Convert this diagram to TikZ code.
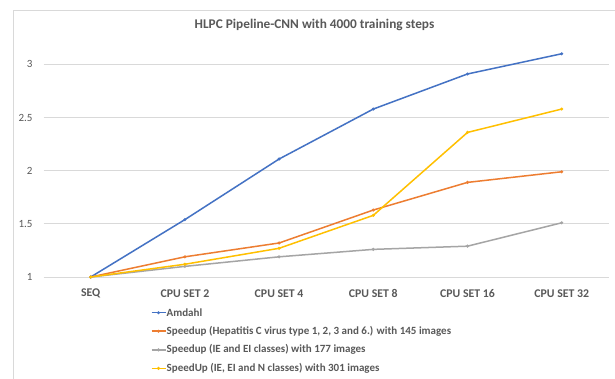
\documentclass[tikz,border=0pt]{standalone}
\usepackage{fontspec}
\usetikzlibrary{calc}
\setmainfont{Carlito}
\definecolor{amdc}{HTML}{4472C4}
\definecolor{orc}{HTML}{ED7D31}
\definecolor{grc}{HTML}{A5A5A5}
\definecolor{ylc}{HTML}{FFC000}
\definecolor{txtc}{HTML}{595959}
\definecolor{gridc}{HTML}{D9D9D9}
\definecolor{framec}{HTML}{D9D9D9}
\newcommand\chartseries[3]{%
  \foreach \v [count=\k from 0] in {#3} {\coordinate (#1\k) at ({90.7+94.2*\k},{277-106.3*(\v-1)});}
  \draw[#2, line width=1.5pt, line join=round] (#10) -- (#11) -- (#12) -- (#13) -- (#14) -- (#15);
  \foreach \k in {0,...,5} {\fill[#2] (#1\k) circle (1.7pt);}
}
\begin{document}
\begin{tikzpicture}[x=1pt,y=-1pt,
  gridline/.style={draw=gridc, line width=0.9pt},
  ylab/.style={anchor=east, text=txtc, font=\fontsize{11}{12}\selectfont, inner sep=0pt},
  xlab/.style={anchor=center, text=txtc, font=\fontsize{11.8}{13}\selectfont\bfseries, inner sep=0pt},
  leglab/.style={anchor=west, text=txtc, font=\fontsize{11}{13}\selectfont\bfseries, inner sep=0pt},
  titlelab/.style={text=txtc, font=\fontsize{13.3}{15}\selectfont\bfseries, inner sep=0pt}]
\useasboundingbox (0,0) rectangle (615,378);
\fill[white] (0,0) rectangle (615,378);
% frame
\draw[framec, line width=0.9pt] (13,400) -- (13,10) -- (620,10);
% title
\node[titlelab] (title) at (314.5,25) {HLPC Pipeline-CNN with 4000 training steps};
% grid and y labels
\foreach \v/\l [count=\n] in {1/1,1.5/1.5,2/2,2.5/2.5,3/3} {
  \coordinate (gl\n) at (43.5,{277-106.3*(\v-1)});
  \coordinate (gr\n) at (608.5,{277-106.3*(\v-1)});
  \draw[gridline] (gl\n) -- (gr\n);
  \node[ylab] (yl\n) at (32.7,{277-106.3*(\v-1)}) {\l};
}
% x labels
\foreach \t [count=\k from 0] in {SEQ,CPU SET 2,CPU SET 4,CPU SET 8,CPU SET 16,CPU SET 32} {
  \node[xlab] (xl\k) at ({90.7+94.2*\k},293.5) {\t};
}
% series
\chartseries{amd}{amdc}{1,1.54,2.11,2.58,2.91,3.10}
\chartseries{ors}{orc}{1,1.19,1.32,1.63,1.89,1.99}
\chartseries{grs}{grc}{1,1.10,1.19,1.26,1.29,1.51}
\chartseries{yls}{ylc}{1,1.12,1.27,1.58,2.36,2.58}
% legend
\foreach \c/\t/\y [count=\n] in {amdc/Amdahl/312.7,
  orc/{Speedup (Hepatitis C virus type 1, 2, 3 and 6.) with 145 images}/331.2,
  grc/{Speedup (IE and EI classes) with 177 images}/349.8,
  ylc/{SpeedUp (IE, EI and N classes) with 301 images}/368.3} {
  \coordinate (la\n) at (151.5,\y);
  \coordinate (lb\n) at (165.5,\y);
  \draw[\c, line width=1.5pt] (la\n) -- (lb\n);
  \fill[\c] ($(la\n)!0.5!(lb\n)$) circle (1.7pt);
  \node[leglab] (lt\n) at (166.5,\y) {\t};
}
\end{tikzpicture}
\end{document}
